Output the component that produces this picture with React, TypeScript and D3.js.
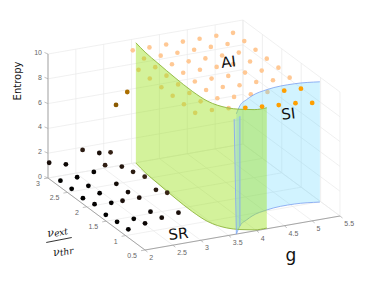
import React from 'react';
import * as d3 from 'd3';

const width = 374;
const height = 281;

// grid of simulated points
const gValues = [2, 2.3, 2.6, 2.9, 3.2, 3.5, 3.8, 4.1, 4.4, 4.7, 5, 5.3];
const nuValues = [2.97, 2.68, 2.39, 2.1, 1.8, 1.51, 1.22, 0.93];
const entropy = [
  [1.3, 0.94, 1.86, 1.38, 5.02, 9.19, 9.19, 9.19, 9.19, 9.19, 9.19, 9.19],
  [0.53, 0.57, 0.76, 2.11, 6.74, 9.2, 9.2, 9.2, 9.2, 9.2, 9.2, 9.2],
  [0.54, 0.55, 1.98, 1.63, 9.2, 9.18, 9.18, 9.18, 9.18, 9.18, 9.18, 9.18],
  [0.46, 0.63, 1.15, 1.88, 9.17, 9.17, 9.17, 9.17, 9.17, 9.17, 9.13, 9.13],
  [0.68, 0.55, 1.18, 2.19, 9.16, 9.16, 9.16, 9.16, 9.14, 9.17, 9.1, 9.1],
  [0.49, 1.39, 1.4, 1.8, 9.15, 9.14, 9.15, 9.15, 9.06, 9.09, 8.99, 8.97],
  [0.6, 0.61, 0.95, 2.24, 9.14, 9.14, 9.15, 9.03, 9.01, 8.96, 8.83, 8.75],
  [0.67, 0.92, 1.14, 1.31, 9.12, 9.12, 9.03, 8.82, 8.69, 8.57, 8.49, 8.28],
];

// region borders on the (g, nu) floor
const greenBorderG = [3.57, 3.52, 3.49, 3.455, 3.44, 3.47, 3.62, 3.78, 3.98, 4.2];
const greenBorderNu = [2.99, 2.68, 2.31, 1.815, 1.35, 0.99, 0.72, 0.61, 0.53, 0.52];
const blueBorderG = [3.64, 3.85, 4.07, 4.22, 4.56, 5.07, 5.48];
const blueBorderNu = [0.5, 0.71, 0.85, 0.93, 1.03, 1.06, 0.99];
const wallTop = 9.7;

const gTicks = [2, 2.5, 3, 3.5, 4, 4.5, 5, 5.5];
const nuTicks = [0.5, 1, 1.5, 2, 2.5, 3];
const zTicks = [0, 2, 4, 6, 8, 10];

// oblique projection, one scale per screen contribution
const gToX = d3.scaleLinear().domain([2, 5.5]).range([0, 195]);
const gToY = d3.scaleLinear().domain([2, 5.5]).range([0, -34]);
const nuToX = d3.scaleLinear().domain([0.5, 3]).range([0, -97]);
const nuToY = d3.scaleLinear().domain([0.5, 3]).range([0, -72]);
const zToY = d3.scaleLinear().domain([0, 10]).range([0, -124]);

const project = (g: number, nu: number, z: number): [number, number] => [
  145 + gToX(g) + nuToX(nu),
  250 + gToY(g) + nuToY(nu) + zToY(z),
];

const dotColor = d3
  .scaleLinear<string>()
  .domain([0.5, 1.4, 2.3, 5, 6.7, 8.3, 8.94])
  .range(['#000000', '#1c100b', '#3a2618', '#8a5900', '#a96d00', '#ff9f00', '#ff9f00']);
const paleDot = '#ffc894';
const paleFrom = 8.95;

const dots = nuValues.flatMap((nu, i) =>
  gValues.map((g, j) => {
    const z = entropy[i][j];
    const [x, y] = project(g, nu, z);
    return { x, y, z };
  })
);

const Wall = ({ gs, nus, fill, opacity, stroke }: any) => {
  const pts = gs.map((g: number, i: number) => ({
    x: project(g, nus[i], 0)[0],
    y0: project(g, nus[i], 0)[1],
    y1: project(g, nus[i], wallTop)[1],
  }));
  const curve = d3.curveMonotoneX;
  const area = d3.area<any>().x((d) => d.x).y0((d) => d.y0).y1((d) => d.y1).curve(curve);
  const line0 = d3.line<any>().x((d) => d.x).y((d) => d.y0).curve(curve);
  const line1 = d3.line<any>().x((d) => d.x).y((d) => d.y1).curve(curve);
  return (
    <g>
      <path d={area(pts) as string} fill={fill} fillOpacity={opacity} />
      <path d={line0(pts) as string} fill="none" stroke={stroke} strokeWidth={0.9} />
      <path d={line1(pts) as string} fill="none" stroke={stroke} strokeWidth={0.9} />
    </g>
  );
};

const seg = (a: [number, number], b: [number, number]) => ({ x1: a[0], y1: a[1], x2: b[0], y2: b[1] });

const App = () => {
  const grid = [
    ...gTicks.map((g) => seg(project(g, 0.5, 0), project(g, 3, 0))),
    ...nuTicks.map((nu) => seg(project(2, nu, 0), project(5.5, nu, 0))),
    ...gTicks.map((g) => seg(project(g, 3, 0), project(g, 3, 10))),
    ...nuTicks.map((nu) => seg(project(5.5, nu, 0), project(5.5, nu, 10))),
    ...zTicks.map((z) => seg(project(2, 3, z), project(5.5, 3, z))),
    ...zTicks.map((z) => seg(project(5.5, 0.5, z), project(5.5, 3, z))),
  ];
  const axes = [
    seg(project(2, 3, 0), project(2, 3, 10)),
    seg(project(2, 3, 0), project(2, 0.5, 0)),
    seg(project(2, 0.5, 0), project(5.5, 0.5, 0)),
  ];
  const pale = dots.filter((d) => d.z >= paleFrom);
  const solid = dots.filter((d) => d.z < paleFrom);

  // thin fold at the start of the blue wall
  const foldA = project(3.85, 0.71, 0);
  const foldB = project(3.85, 0.71, 8.85);
  const edgeA = project(3.64, 0.5, 0);
  const edgeB = project(3.6, 0.5, 9.3);
  const strip = d3.line()([edgeA, foldA, foldB, edgeB]) + 'Z';

  const tickStyle = { fontFamily: '"Liberation Sans", Arial, sans-serif', fontSize: 7, fill: '#666666' };

  return (
    <svg
      width={width}
      height={height}
      style={{ position: 'absolute', left: 0, top: 0, background: '#fff' }}
    >
      {grid.map((l, i) => (
        <line key={i} {...l} stroke="#e9e9e9" strokeWidth={0.7} />
      ))}
      {axes.map((l, i) => (
        <line key={i} {...l} stroke="#a6a6a6" strokeWidth={1} />
      ))}

      {zTicks.map((z) => {
        const [x, y] = project(2, 3, z);
        return (
          <g key={z}>
            <line x1={x} y1={y} x2={x - 3.5} y2={y - 1.5} stroke="#a6a6a6" strokeWidth={0.7} />
            <text x={x - 6} y={y + 1} textAnchor="end" {...tickStyle}>{z}</text>
          </g>
        );
      })}
      {nuTicks.map((nu) => {
        const [x, y] = project(2, nu, 0);
        return (
          <g key={nu}>
            <line x1={x} y1={y} x2={x - 4} y2={y + 0.7} stroke="#a6a6a6" strokeWidth={0.7} />
            <text x={x - 8} y={y + 8} textAnchor="end" {...tickStyle}>{nu}</text>
          </g>
        );
      })}
      {gTicks.map((g) => {
        const [x, y] = project(g, 0.5, 0);
        return (
          <g key={g}>
            <line x1={x} y1={y} x2={x + 2.5} y2={y + 2} stroke="#a6a6a6" strokeWidth={0.7} />
            <text x={x + 4.3} y={y + 10} {...tickStyle}>{g}</text>
          </g>
        );
      })}

      {pale.map((d, i) => (
        <circle key={i} cx={d.x} cy={d.y} r={2.3} fill={paleDot} />
      ))}

      <Wall gs={blueBorderG} nus={blueBorderNu} fill="#47cfff" opacity={0.25} stroke="#86a9f2" />
      <Wall gs={greenBorderG} nus={greenBorderNu} fill="#9ae119" opacity={0.435} stroke="#8db43a" />

      <path d={strip} fill="#8fd0f5" fillOpacity={0.3} />
      <line x1={edgeA[0]} y1={edgeA[1]} x2={edgeB[0]} y2={edgeB[1]} stroke="#86a9f2" strokeWidth={0.9} />
      <line x1={foldA[0]} y1={foldA[1]} x2={foldB[0]} y2={foldB[1]} stroke="#86a9f2" strokeWidth={0.9} />

      {solid.map((d, i) => (
        <circle key={i} cx={d.x} cy={d.y} r={2.4} fill={dotColor(d.z)} />
      ))}

      <text
        transform="translate(21,81) rotate(-90)"
        textAnchor="middle"
        fontFamily="DejaVu Sans"
        fontSize={10}
        fill="#111"
      >
        Entropy
      </text>
      <text x={291} y={261} textAnchor="middle" fontFamily="DejaVu Sans" fontSize={17} fill="#111">g</text>
      <text transform="translate(179,239) rotate(-6)" textAnchor="middle" fontFamily="DejaVu Sans" fontSize={15} fill="#111">SR</text>
      <text transform="translate(229,67) rotate(-7)" textAnchor="middle" fontFamily="DejaVu Sans" fontSize={15} fill="#111">AI</text>
      <text transform="translate(289,119) rotate(-7)" textAnchor="middle" fontFamily="DejaVu Sans" fontSize={15} fill="#111">SI</text>

      <g transform="translate(59,240) rotate(-11)" fontFamily="DejaVu Serif" fontStyle="italic" fill="#111">
        <text x={0} y={-5} textAnchor="middle" fontSize={11}>
          ν<tspan fontSize={9} dy={1}>ext</tspan>
        </text>
        <line x1={-13} y1={0} x2={13} y2={0} stroke="#111" strokeWidth={0.8} />
        <text x={2} y={15} textAnchor="middle" fontSize={11}>
          ν<tspan fontSize={9} dy={1}>thr</tspan>
        </text>
      </g>
    </svg>
  );
};

export default App;
